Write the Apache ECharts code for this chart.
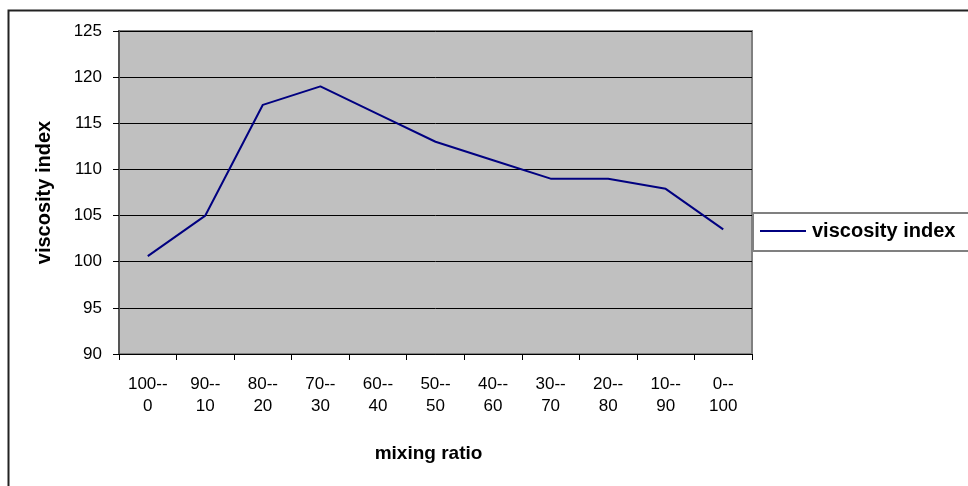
<!DOCTYPE html>
<html>
<head>
<meta charset="utf-8">
<script src="https://cdn.jsdelivr.net/npm/echarts@6/dist/echarts.min.js"></script>
<style>
html,body{margin:0;padding:0;background:#fff;}
#chart{width:968px;height:486px;}
</style>
</head>
<body>
<div id="chart"></div>
<script>
const categories = ['100--\n0', '90--\n10', '80--\n20', '70--\n30', '60--\n40', '50--\n50', '40--\n60', '30--\n70', '20--\n80', '10--\n90', '0--\n100'];
const viscosityIndex = [100.6, 105, 117, 119, 116, 113, 111, 109, 109, 107.9, 103.5];
const seriesName = 'viscosity index';
const yTicks = { min: 90, max: 125, interval: 5 };

const FONT = 'Arial, "Liberation Sans", sans-serif';
const chart = echarts.init(document.getElementById('chart'), null, { renderer: 'canvas' });
chart.setOption({
  animation: false,
  backgroundColor: '#ffffff',
  graphic: [
    { type: 'rect', left: 6, top: 8, shape: { width: 1000, height: 600 }, style: { fill: 'none', stroke: '#222', lineWidth: 2 }, z: 0 },
    { type: 'rect', left: 752, top: 212, shape: { width: 240, height: 38 }, style: { fill: '#fff', stroke: '#808080', lineWidth: 2 }, z: 1 }
  ],
  legend: {
    data: [{ name: seriesName, icon: 'rect' }],
    left: 760,
    top: 221,
    itemWidth: 46,
    itemHeight: 2,
    itemGap: 5,
    padding: 0,
    textStyle: { fontFamily: FONT, fontSize: 20, fontWeight: 'bold', color: '#000', padding: [0, 0, 0, 1] },
    z: 5
  },
  grid: {
    left: 119, top: 31, width: 633, height: 323,
    show: true, backgroundColor: '#C0C0C0', borderColor: '#808080', borderWidth: 2,
    containLabel: false
  },
  xAxis: {
    type: 'category',
    data: categories,
    boundaryGap: true,
    name: 'mixing ratio',
    nameLocation: 'middle',
    nameGap: 90,
    nameTextStyle: { fontFamily: FONT, fontSize: 19, fontWeight: 'bold', color: '#000', padding: [0, 14, 0, 0] },
    axisLine: { show: true, lineStyle: { color: '#000', width: 1 } },
    axisTick: { show: true, inside: false, length: 6, alignWithLabel: false, lineStyle: { color: '#000' } },
    axisLabel: { fontFamily: FONT, fontSize: 17, color: '#000', margin: 19, lineHeight: 22, interval: 0 },
    splitLine: { show: false }
  },
  yAxis: {
    type: 'value',
    min: yTicks.min, max: yTicks.max, interval: yTicks.interval,
    name: seriesName,
    nameLocation: 'middle',
    nameGap: 65,
    nameTextStyle: { fontFamily: FONT, fontSize: 20, fontWeight: 'bold', color: '#000' },
    axisLine: { show: true, lineStyle: { color: '#555', width: 2 } },
    axisTick: { show: true, inside: false, length: 6, lineStyle: { color: '#000' } },
    axisLabel: { fontFamily: FONT, fontSize: 17, color: '#000', margin: 17 },
    splitLine: { show: true, lineStyle: { color: '#000', width: 1 } }
  },
  series: [{
    name: seriesName,
    type: 'line',
    data: viscosityIndex,
    symbol: 'none',
    showSymbol: false,
    lineStyle: { color: '#000080', width: 2 },
    itemStyle: { color: '#000080' },
    z: 3
  }]
});
</script>
</body>
</html>
